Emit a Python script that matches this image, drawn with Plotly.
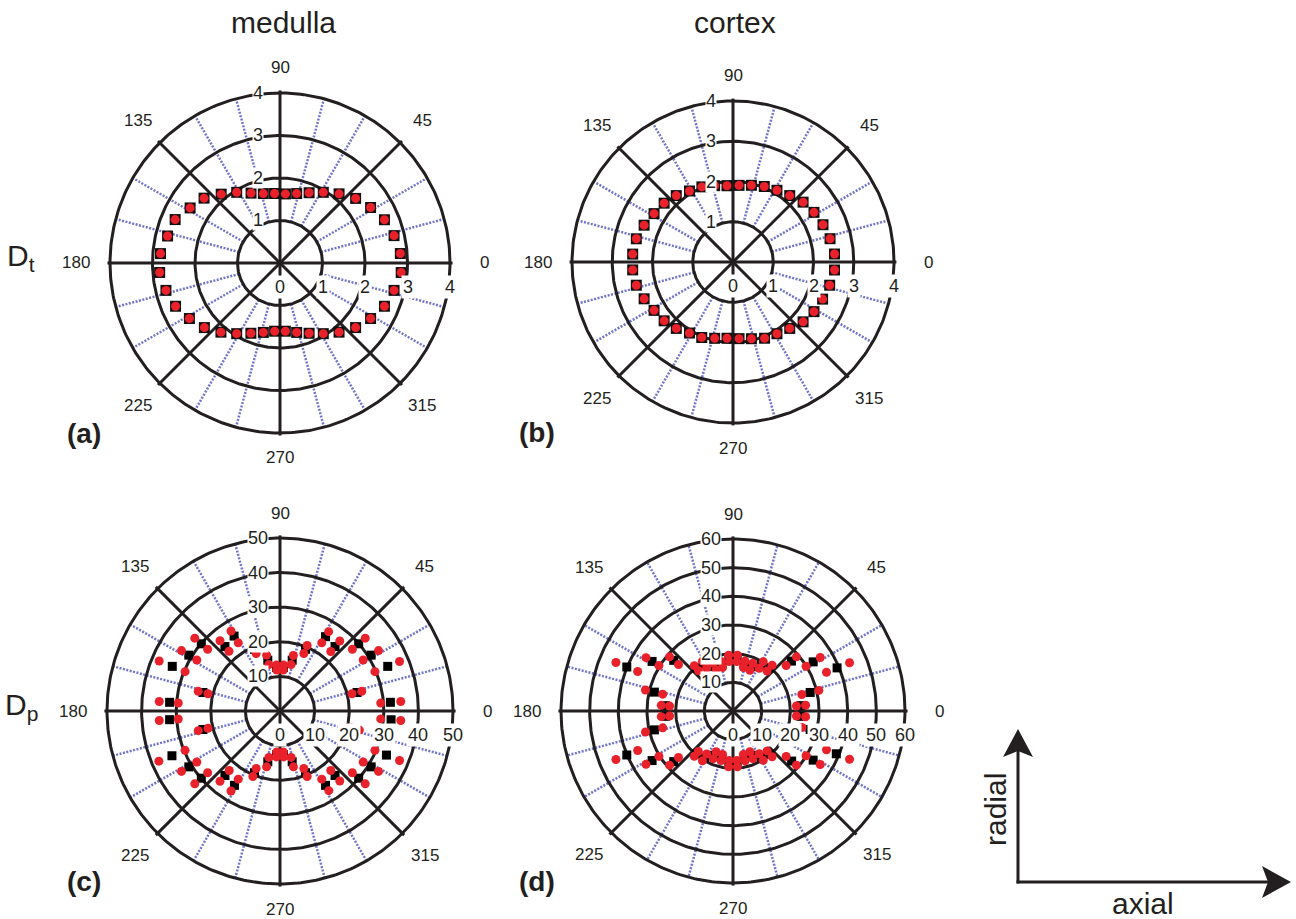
import numpy as np
import plotly.graph_objects as go

FIG_W, FIG_H = 1296, 919
FONT = "Liberation Sans, Arial, sans-serif"
INK = "#231f20"
RED = "#e8212b"
GUIDE_BLUE = "rgb(112,116,204)"

# ---------------------------------------------------------------- data
# gradient directions (degrees)
DIRECTIONS = [4.5, 13.5, 22.5, 31.5, 40.5, 49.5, 58.5, 67.5, 76.5, 85.5,
              94.5, 103.5, 112.5, 121.5, 130.5, 139.5, 148.5, 157.5, 166.5, 175.5,
              184.5, 193.5, 202.5, 211.5, 220.5, 229.5, 238.5, 247.5, 256.5, 265.5,
              274.5, 283.5, 292.5, 301.5, 310.5, 319.5, 328.5, 337.5, 346.5, 355.5]

# tissue diffusivity D_t
DT_MEDULLA = [2.84, 2.76, 2.66, 2.50, 2.34, 2.14, 1.95, 1.79, 1.68, 1.63,
              1.64, 1.68, 1.78, 1.95, 2.13, 2.35, 2.48, 2.67, 2.72, 2.82,
              2.84, 2.76, 2.66, 2.50, 2.34, 2.14, 1.95, 1.79, 1.68, 1.61,
              1.61, 1.68, 1.79, 1.95, 2.14, 2.34, 2.50, 2.66, 2.76, 2.86]
DT_CORTEX = [2.53, 2.48, 2.42, 2.36, 2.29, 2.17, 2.09, 2.03, 1.96, 1.91,
             1.90, 1.95, 2.02, 2.07, 2.17, 2.25, 2.30, 2.39, 2.47, 2.50,
             2.50, 2.47, 2.39, 2.30, 2.25, 2.17, 2.07, 2.03, 1.95, 1.90,
             1.91, 1.96, 2.05, 2.09, 2.17, 2.29, 2.36, 2.41, 2.47, 2.53]

# pseudo-diffusivity D_p : mean and lower / upper spread
DP_MEDULLA_MEAN = [32.0, 22.9, 33.7, 30.9, 29.9, 24.5, 25.2, 19.3, 15.1, 12.6,
                   12.6, 15.1, 19.3, 25.4, 24.5, 29.9, 30.9, 33.7, 22.9, 32.0,
                   32.0, 22.9, 33.8, 30.9, 29.9, 24.5, 25.2, 19.3, 15.1, 12.7,
                   12.7, 15.1, 19.3, 25.2, 24.5, 29.9, 30.9, 33.3, 22.2, 32.2]
DP_MEDULLA_LO = [29.2, 21.4, 29.7, 28.2, 27.5, 22.6, 23.1, 18.0, 13.8, 11.9,
                 11.9, 13.8, 18.0, 23.1, 22.7, 27.5, 28.2, 29.7, 21.4, 29.5,
                 29.5, 21.4, 29.7, 28.2, 27.5, 22.6, 23.1, 18.0, 13.8, 11.9,
                 11.9, 13.8, 18.0, 23.1, 22.6, 27.5, 28.2, 29.7, 21.2, 29.2]
DP_MEDULLA_HI = [35.0, 24.3, 37.4, 33.4, 32.4, 26.6, 26.9, 20.5, 16.5, 13.3,
                 13.3, 16.6, 20.6, 27.1, 26.7, 32.4, 33.4, 37.8, 24.3, 35.0,
                 35.0, 24.3, 37.9, 33.4, 32.4, 26.7, 27.1, 20.5, 16.6, 13.3,
                 13.3, 16.6, 20.5, 27.0, 26.6, 32.4, 33.4, 37.4, 23.6, 35.0]

DP_CORTEX_MEAN = [23.8, 27.7, 39.3, 32.8, 26.8, 19.8, 18.8, 16.7, 16.6, 18.4,
                  18.4, 16.6, 16.7, 19.0, 19.7, 27.2, 33.1, 40.1, 28.2, 23.7,
                  23.7, 28.2, 40.1, 33.1, 27.2, 19.7, 19.0, 16.7, 16.6, 18.4,
                  18.4, 16.6, 16.7, 18.8, 19.8, 26.9, 32.8, 39.0, 27.7, 23.8]
DP_CORTEX_LO = [22.2, 24.7, 35.3, 29.9, 24.4, 18.3, 17.5, 15.4, 15.6, 17.3,
                17.3, 15.6, 15.4, 17.6, 18.6, 25.0, 30.3, 36.0, 25.2, 22.2,
                22.2, 25.2, 36.0, 30.3, 25.0, 18.6, 17.6, 15.4, 15.6, 17.3,
                17.3, 15.6, 15.4, 17.5, 18.3, 24.4, 29.9, 35.3, 24.7, 22.2]
DP_CORTEX_HI = [25.4, 30.8, 44.0, 35.7, 29.1, 21.0, 20.2, 18.0, 17.9, 19.5,
                19.5, 17.8, 18.0, 20.4, 20.8, 29.1, 35.6, 44.2, 31.4, 25.1,
                25.1, 31.4, 44.2, 35.6, 29.1, 20.8, 20.4, 18.0, 17.8, 19.5,
                19.5, 17.9, 18.0, 20.2, 21.0, 29.1, 35.7, 44.0, 30.8, 25.4]

# axis furniture
ANGLE_TICKS = [0, 45, 90, 135, 180, 225, 270, 315]
GUIDE_ANGLES = [15, 30, 60, 75, 105, 120, 150, 165,
                195, 210, 240, 255, 285, 300, 330, 345]
RADII_DT = [1, 2, 3, 4]
RADII_DP_MEDULLA = [10, 20, 30, 40, 50]
RADII_DP_CORTEX = [10, 20, 30, 40, 50, 60]

COLUMN_TITLES = ["medulla", "cortex"]
ROW_TITLES = ["D<sub>t</sub>", "D<sub>p</sub>"]

# ---------------------------------------------------------------- panels
PANELS = [
    dict(tag="(a)", cx=280, cy=263, rpx=170, radii=RADII_DT, kind="dt", r=DT_MEDULLA),
    dict(tag="(b)", cx=733, cy=262, rpx=161, radii=RADII_DT, kind="dt", r=DT_CORTEX),
    dict(tag="(c)", cx=280, cy=711, rpx=173, radii=RADII_DP_MEDULLA, kind="dp",
         mean=DP_MEDULLA_MEAN, lo=DP_MEDULLA_LO, hi=DP_MEDULLA_HI),
    dict(tag="(d)", cx=733, cy=711, rpx=172, radii=RADII_DP_CORTEX, kind="dp",
         mean=DP_CORTEX_MEAN, lo=DP_CORTEX_LO, hi=DP_CORTEX_HI),
]
HALF_X, HALF_Y = 222, 204  # half size of each subplot box, px


def to_xy(r, deg):
    t = np.deg2rad(np.asarray(deg, dtype=float))
    r = np.asarray(r, dtype=float)
    return r * np.cos(t), r * np.sin(t)


def segments(pairs):
    xs, ys = [], []
    for (x0, y0), (x1, y1) in pairs:
        xs += [x0, x1, None]
        ys += [y0, y1, None]
    return xs, ys


fig = go.Figure()
annotations = []
layout_axes = {}

for i, p in enumerate(PANELS, start=1):
    xa = "x" if i == 1 else f"x{i}"
    ya = "y" if i == 1 else f"y{i}"
    rmax = p["radii"][-1]
    scale = p["rpx"] / rmax          # px per data unit
    cx, cy = p["cx"], p["cy"]
    layout_axes["xaxis" if i == 1 else f"xaxis{i}"] = dict(
        domain=[(cx - HALF_X) / FIG_W, (cx + HALF_X) / FIG_W],
        range=[-HALF_X / scale, HALF_X / scale], visible=False, fixedrange=True)
    layout_axes["yaxis" if i == 1 else f"yaxis{i}"] = dict(
        domain=[1 - (cy + HALF_Y) / FIG_H, 1 - (cy - HALF_Y) / FIG_H],
        range=[-HALF_Y / scale, HALF_Y / scale], visible=False, fixedrange=True)
    common = dict(xaxis=xa, yaxis=ya, showlegend=False, hoverinfo="skip", cliponaxis=False)

    # dotted blue guide spokes
    r_in = p["radii"][0]
    pairs = []
    for a in GUIDE_ANGLES:
        x0, y0 = to_xy(r_in, a)
        x1, y1 = to_xy(rmax, a)
        pairs.append(((float(x0), float(y0)), (float(x1), float(y1))))
    gx, gy = segments(pairs)
    fig.add_trace(go.Scatter(x=gx, y=gy, mode="lines",
                             line=dict(color=GUIDE_BLUE, width=2.5, dash="2px,1.5px"),
                             **common))

    # concentric rings
    th = np.linspace(0, 360, 361)
    rx, ry = [], []
    for rr in p["radii"]:
        cxs, cys = to_xy(rr, th)
        rx += list(cxs) + [None]
        ry += list(cys) + [None]
    fig.add_trace(go.Scatter(x=rx, y=ry, mode="lines",
                             line=dict(color=INK, width=3), **common))

    # black spokes every 45 degrees
    pairs = []
    for a in ANGLE_TICKS:
        x1, y1 = to_xy(rmax * 1.015, a)
        pairs.append(((0.0, 0.0), (float(x1), float(y1))))
    sx, sy = segments(pairs)
    fig.add_trace(go.Scatter(x=sx, y=sy, mode="lines",
                             line=dict(color=INK, width=3), **common))

    # data
    if p["kind"] == "dt":
        dx, dy = to_xy(p["r"], DIRECTIONS)
        fig.add_trace(go.Scatter(x=dx, y=dy, mode="markers",
                                 marker=dict(symbol="square", size=11, color="#111111"),
                                 **common))
        fig.add_trace(go.Scatter(x=dx, y=dy, mode="markers",
                                 marker=dict(symbol="circle", size=9, color=RED),
                                 **common))
    else:
        mx, my = to_xy(p["mean"], DIRECTIONS)
        fig.add_trace(go.Scatter(x=mx, y=my, mode="markers",
                                 marker=dict(symbol="square", size=9, color="#000000"),
                                 **common))
        for key in ("lo", "hi"):
            ex, ey = to_xy(p[key], DIRECTIONS)
            fig.add_trace(go.Scatter(x=ex, y=ey, mode="markers",
                                     marker=dict(symbol="circle", size=9, color=RED),
                                     **common))

    # radial tick labels: along the 90 degree spoke and below the 0 degree spoke
    off = 22 / scale
    for rr in p["radii"]:
        annotations.append(dict(x=-off, y=rr, xref=xa, yref=ya, text=str(rr), showarrow=False,
                                font=dict(family=FONT, size=18, color=INK),
                                bgcolor="white", borderpad=0, xanchor="center",
                                yanchor="middle"))
    for rr in [0] + p["radii"]:
        annotations.append(dict(x=rr, y=-24 / scale, xref=xa, yref=ya, text=str(rr),
                                showarrow=False, font=dict(family=FONT, size=18, color=INK),
                                bgcolor="white", borderpad=1, xanchor="center",
                                yanchor="middle"))

    # angular labels
    for a in ANGLE_TICKS:
        d = (p["rpx"] + 25 + 9 * abs(np.cos(np.deg2rad(a)))) / scale
        lx, ly = to_xy(d, a)
        annotations.append(dict(x=float(lx), y=float(ly), xref=xa, yref=ya, text=str(a),
                                showarrow=False, font=dict(family=FONT, size=17, color=INK),
                                xanchor="center", yanchor="middle"))

    # panel tag
    annotations.append(dict(x=(cx - 196) / FIG_W, y=1 - (cy + 170) / FIG_H,
                            xref="paper", yref="paper", text=f"<b>{p['tag']}</b>",
                            showarrow=False, font=dict(family=FONT, size=28, color=INK),
                            xanchor="center", yanchor="middle"))

# column and row titles
for title, cx in zip(COLUMN_TITLES, [283, 735]):
    annotations.append(dict(x=cx / FIG_W, y=1 - 22 / FIG_H, xref="paper", yref="paper",
                            text=title, showarrow=False,
                            font=dict(family=FONT, size=30, color=INK),
                            xanchor="center", yanchor="middle"))
for title, cy in zip(ROW_TITLES, [258, 706]):
    annotations.append(dict(x=21 / FIG_W, y=1 - cy / FIG_H, xref="paper", yref="paper",
                            text=title, showarrow=False,
                            font=dict(family=FONT, size=30, color=INK),
                            xanchor="center", yanchor="middle"))


# orientation key (radial / axial)
def px(x):
    return x / FIG_W


def py(y):
    return 1 - y / FIG_H


ox, oy = 1018, 882
shapes = [
    dict(type="line", xref="paper", yref="paper", x0=px(ox), y0=py(oy + 1.5),
         x1=px(ox), y1=py(748), line=dict(color=INK, width=3)),
    dict(type="line", xref="paper", yref="paper", x0=px(ox - 1.5), y0=py(oy),
         x1=px(1272), y1=py(oy), line=dict(color=INK, width=3)),
    dict(type="path", xref="paper", yref="paper",
         path=(f"M {px(ox)} {py(729)} L {px(ox - 15)} {py(757)} L {px(ox)} {py(751)} "
               f"L {px(ox + 15)} {py(757)} Z"),
         fillcolor=INK, line=dict(width=0)),
    dict(type="path", xref="paper", yref="paper",
         path=(f"M {px(1291)} {py(oy)} L {px(1262)} {py(oy - 16)} L {px(1268)} {py(oy)} "
               f"L {px(1262)} {py(oy + 16)} Z"),
         fillcolor=INK, line=dict(width=0)),
]
annotations.append(dict(x=px(995), y=py(810), xref="paper", yref="paper", text="radial",
                        textangle=-90, showarrow=False,
                        font=dict(family=FONT, size=30, color=INK),
                        xanchor="center", yanchor="middle"))
annotations.append(dict(x=px(1143), y=py(903), xref="paper", yref="paper", text="axial",
                        showarrow=False, font=dict(family=FONT, size=30, color=INK),
                        xanchor="center", yanchor="middle"))

fig.update_layout(
    width=FIG_W, height=FIG_H,
    margin=dict(l=0, r=0, t=0, b=0),
    paper_bgcolor="white", plot_bgcolor="white",
    annotations=annotations, shapes=shapes,
    **layout_axes,
)

fig.write_html("out.html")
